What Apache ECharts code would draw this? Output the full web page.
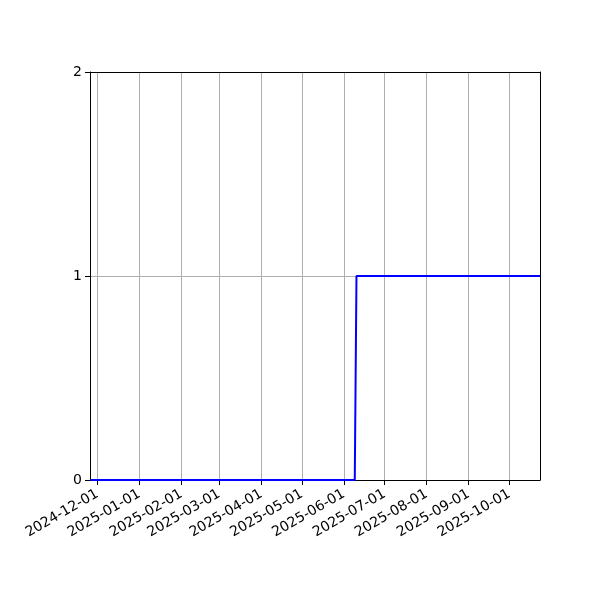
<!DOCTYPE html>
<html><head><meta charset="utf-8">
<script src="https://cdn.jsdelivr.net/npm/echarts@6/dist/echarts.min.js"></script>
<style>html,body{margin:0;padding:0;background:#fff}#c{width:600px;height:600px}</style>
</head><body><div id="c"></div>
<script>
const dates = ['2024-11-25T15:00:00', '2025-06-09T00:00:00', '2025-06-10T06:00:00', '2025-10-23T16:00:00'];
const values = [0, 0, 1, 1];
const xMin = '2024-11-25T15:00:00';
const xMax = '2025-10-23T16:00:00';
const yTicks = [0, 1, 2];

const chart = echarts.init(document.getElementById('c'));
const DAY = 86400000;
const frameAxis = { show: true, onZero: false, lineStyle: { color: '#000', width: 1 } };
chart.setOption({
  animation: false,
  backgroundColor: '#fff',
  grid: { left: 90, right: 60, top: 72, bottom: 120 },
  xAxis: [{
    type: 'time',
    min: xMin, max: xMax,
    minInterval: 28 * DAY, maxInterval: 31 * DAY,
    axisLine: frameAxis,
    axisTick: { show: true, length: 5, lineStyle: { color: '#000' } },
    splitLine: { show: true, lineStyle: { color: '#b0b0b0', width: 1 } },
    axisLabel: {
      rotate: 30, color: '#000', fontSize: 14, fontFamily: 'DejaVu Sans', margin: 13,
      showMinLabel: false, showMaxLabel: false, hideOverlap: false,
      formatter: function (v) { return echarts.time.format(v, '{yyyy}-{MM}-{dd}', false); }
    }
  }, {
    type: 'time', position: 'top', min: xMin, max: xMax,
    axisLine: frameAxis, axisTick: { show: false }, axisLabel: { show: false }, splitLine: { show: false }
  }],
  yAxis: [{
    type: 'value', min: yTicks[0], max: yTicks[yTicks.length - 1], interval: 1,
    axisLine: frameAxis,
    axisTick: { show: true, length: 5, lineStyle: { color: '#000' } },
    splitLine: { show: true, lineStyle: { color: '#b0b0b0', width: 1 } },
    axisLabel: { color: '#000', fontSize: 14, fontFamily: 'DejaVu Sans', margin: 8 }
  }, {
    type: 'value', position: 'right', min: yTicks[0], max: yTicks[yTicks.length - 1], interval: 1,
    axisLine: frameAxis, axisTick: { show: false }, axisLabel: { show: false }, splitLine: { show: false }
  }],
  series: [{
    type: 'line',
    xAxisIndex: 0, yAxisIndex: 0,
    data: dates.map((d, i) => [d, values[i]]),
    showSymbol: false,
    lineStyle: { color: '#0000ff', width: 2 },
    itemStyle: { color: '#0000ff' },
    z: 10
  }]
});
</script></body></html>
